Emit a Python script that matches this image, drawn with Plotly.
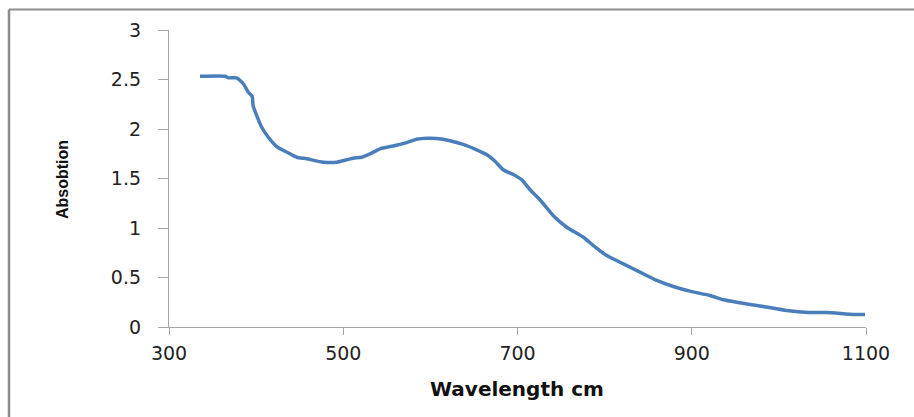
import plotly.graph_objects as go

# Absorption spectrum (wavelength vs absorbance)
wavelength = [335.6, 364.3, 368.1, 377.7, 385.3, 391.0, 395.5, 396.5, 400.7, 406.4,
              414.0, 423.6, 438.9, 446.6, 458.0, 477.1, 492.5, 504.0, 511.5, 521.2,
              530.7, 542.2, 557.3, 572.7, 584.2, 595.7, 607.1, 622.4, 637.7, 653.1,
              664.5, 674.2, 683.6, 695.1, 704.8, 714.4, 725.8, 741.1, 756.5, 775.6,
              787.1, 802.4, 821.5, 840.6, 859.8, 878.8, 897.9, 920.9, 936.2, 951.6,
              982.2, 1009.0, 1033.8, 1054.9, 1085.4, 1098.9]
absorbance = [2.533, 2.533, 2.517, 2.517, 2.457, 2.372, 2.328, 2.237, 2.136, 2.018,
              1.917, 1.823, 1.750, 1.715, 1.699, 1.665, 1.665, 1.689, 1.705, 1.715,
              1.749, 1.800, 1.829, 1.863, 1.896, 1.906, 1.903, 1.882, 1.845, 1.790,
              1.742, 1.675, 1.588, 1.540, 1.487, 1.386, 1.285, 1.124, 1.008, 0.907,
              0.823, 0.722, 0.638, 0.554, 0.470, 0.409, 0.362, 0.318, 0.275, 0.250,
              0.207, 0.167, 0.146, 0.146, 0.126, 0.126]

x_ticks = [300, 500, 700, 900, 1100]
y_ticks = [0, 0.5, 1, 1.5, 2, 2.5, 3]
y_tick_text = ["0", "0.5", "1", "1.5", "2", "2.5", "3"]

W, H = 914, 417
ML, MR, MT, MB = 169, 48, 30, 90
pw, ph = W - ML - MR, H - MT - MB


def px_to_paper_x(px):
    return (px - ML) / pw


def px_to_paper_y(py):
    return (H - MB - py) / ph


fig = go.Figure()
fig.add_trace(go.Scatter(
    x=wavelength, y=absorbance, mode="lines",
    line=dict(color="#4a7ebb", width=3.5, shape="spline", smoothing=0.5),
    showlegend=False, hoverinfo="x+y",
))

axis_font = dict(family="DejaVu Sans, Verdana, sans-serif", size=19, color="#222222")

fig.update_layout(
    width=W, height=H,
    margin=dict(l=ML, r=MR, t=MT, b=MB),
    paper_bgcolor="white", plot_bgcolor="white",
    xaxis=dict(
        range=[300, 1100], tickmode="array", tickvals=x_ticks,
        ticktext=[str(v) for v in x_ticks],
        showgrid=False, zeroline=False, showline=True,
        linecolor="#a6a6a6", linewidth=1.3,
        ticks="outside", ticklen=7, tickcolor="#a6a6a6", tickwidth=1.3,
        tickfont=axis_font, ticklabelstandoff=2,
    ),
    yaxis=dict(
        range=[0, 3], tickmode="array", tickvals=y_ticks, ticktext=y_tick_text,
        showgrid=False, zeroline=False, showline=True,
        linecolor="#a6a6a6", linewidth=1.3,
        ticks="outside", ticklen=10, tickcolor="#a6a6a6", tickwidth=1.3,
        tickfont=axis_font, ticklabelstandoff=13,
    ),
    annotations=[
        dict(text="<b>Wavelength cm</b>", xref="paper", yref="paper",
             x=px_to_paper_x(517), y=px_to_paper_y(389),
             xanchor="center", yanchor="middle", showarrow=False,
             font=dict(family="DejaVu Sans, sans-serif", size=20, color="#111111")),
        dict(text="<b>Absobtion</b>", xref="paper", yref="paper",
             x=px_to_paper_x(63), y=px_to_paper_y(180), textangle=-90,
             xanchor="center", yanchor="middle", showarrow=False,
             font=dict(family="Liberation Sans, Arial, sans-serif",
                       size=16, color="#111111")),
    ],
    shapes=[
        # frame lines along the top and left edges
        dict(type="line", xref="paper", yref="paper",
             x0=px_to_paper_x(9), x1=px_to_paper_x(914),
             y0=px_to_paper_y(9.5), y1=px_to_paper_y(9.5),
             line=dict(color="#8c8c8c", width=2)),
        dict(type="line", xref="paper", yref="paper",
             x0=px_to_paper_x(9), x1=px_to_paper_x(9),
             y0=px_to_paper_y(9.5), y1=px_to_paper_y(417),
             line=dict(color="#8c8c8c", width=2.5)),
    ],
)

fig.write_html("out.html")
